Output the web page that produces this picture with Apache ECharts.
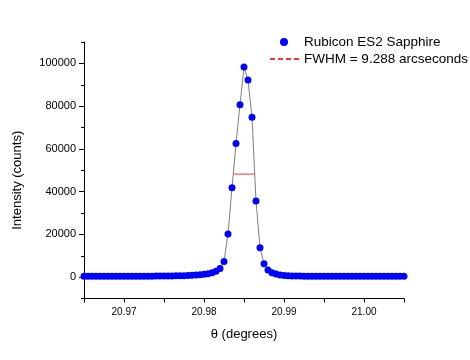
<!DOCTYPE html>
<html>
<head>
<meta charset="utf-8">
<script src="https://cdn.jsdelivr.net/npm/echarts@6/dist/echarts.min.js"></script>
<style>html,body{margin:0;padding:0;background:#fff;}#c{width:470px;height:360px;}</style>
</head>
<body>
<div id="c"></div>
<script>
var theta = [20.9650,20.9655,20.9660,20.9665,20.9670,20.9675,20.9680,20.9685,20.9690,20.9695,
20.9700,20.9705,20.9710,20.9715,20.9720,20.9725,20.9730,20.9735,20.9740,20.9745,
20.9750,20.9755,20.9760,20.9765,20.9770,20.9775,20.9780,20.9785,20.9790,20.9795,
20.9800,20.9805,20.9810,20.9815,20.9820,20.9825,20.9830,20.9835,20.9840,20.9845,
20.9850,20.9855,20.9860,20.9865,20.9870,20.9875,20.9880,20.9885,20.9890,20.9895,
20.9900,20.9905,20.9910,20.9915,20.9920,20.9925,20.9930,20.9935,20.9940,20.9945,
20.9950,20.9955,20.9960,20.9965,20.9970,20.9975,20.9980,20.9985,20.9990,20.9995,
21.0000,21.0005,21.0010,21.0015,21.0020,21.0025,21.0030,21.0035,21.0040,21.0045,21.0050];
var intensity = [380,390,385,395,390,400,405,400,410,410,
415,420,425,430,440,445,455,465,475,490,
500,520,550,590,640,700,780,880,1000,1150,
1350,1600,2100,2750,4000,7300,20200,41800,62500,80700,
98300,92200,74800,35600,13800,6200,3350,2100,1500,1050,
800,650,560,510,480,460,445,435,425,420,
415,410,405,400,400,395,395,390,390,385,
385,380,380,380,375,375,375,370,370,370,370];
var fwhmTheta = [20.98373, 20.98631];
var fwhmLevel = [48200, 48200];
var xTickLabels = [20.97, 20.98, 20.99, 21.00];
var yTickLabels = [0, 20000, 40000, 60000, 80000, 100000];
var yMinorTicks = [-10000, 10000, 30000, 50000, 70000, 90000, 110000];
var seriesName = 'Rubicon ES2 Sapphire';
var fwhmName = 'FWHM = 9.288 arcseconds';

var pts = theta.map(function(t,i){return [t,intensity[i]];});
var fw = fwhmTheta.map(function(t,i){return [t,fwhmLevel[i]];});
var FONT = 'Liberation Sans, Arial, sans-serif';
var G = {left:84,right:66,top:42,bottom:61.5,containLabel:false};
var chart = echarts.init(document.getElementById('c'), null, {renderer:'canvas'});
chart.setOption({
  animation:false,
  backgroundColor:'#fff',
  textStyle:{fontFamily:FONT},
  grid:[G, Object.assign({}, G)],
  legend:[{
    data:[{name:seriesName,icon:'circle'}],
    left:280,top:35,padding:0,itemWidth:30,itemHeight:8,
    textStyle:{fontFamily:FONT,fontSize:13.5,color:'#000'}
  },{
    data:[{name:fwhmName,icon:'path://M0,0h5v2h-5zM8,0h5v2h-5zM16,0h5v2h-5zM24,0h5v2h-5z'}],
    left:270,top:52,padding:0,itemWidth:29,itemHeight:2,
    textStyle:{fontFamily:FONT,fontSize:13.5,color:'#000'}
  }],
  xAxis:[{
    gridIndex:0,type:'value',min:20.965,max:21.005,interval:0.005,
    name:'θ (degrees)',nameLocation:'middle',nameGap:29,
    nameTextStyle:{fontFamily:FONT,fontSize:13,color:'#000'},
    axisLine:{onZero:false,lineStyle:{color:'#000',width:1}},
    axisTick:{show:true,length:4,inside:false,lineStyle:{color:'#000'}},
    splitLine:{show:false},
    axisLabel:{fontFamily:FONT,fontSize:10,color:'#000',margin:9,customValues:xTickLabels,
      formatter:function(v){return v.toFixed(2);}}
  },{
    gridIndex:1,type:'value',min:20.965,max:21.005,show:false
  }],
  yAxis:[{
    gridIndex:0,type:'value',min:-10000,max:110000,interval:10000,
    name:'Intensity (counts)',nameLocation:'middle',nameGap:60,
    nameTextStyle:{fontFamily:FONT,fontSize:13,color:'#000',padding:[0,20,0,0]},
    axisLine:{show:true,onZero:false,lineStyle:{color:'#000',width:1}},
    axisTick:{show:true,length:5,customValues:yTickLabels,lineStyle:{color:'#000'}},
    splitLine:{show:false},
    axisLabel:{fontFamily:FONT,fontSize:11,color:'#000',margin:8,customValues:yTickLabels,
      formatter:function(v){return String(v);}}
  },{
    gridIndex:1,type:'value',min:-10000,max:110000,interval:10000,
    axisLine:{show:false},
    axisTick:{show:true,length:3,customValues:yMinorTicks,lineStyle:{color:'#000'}},
    axisLabel:{show:false},splitLine:{show:false}
  }],
  series:[{
    name:'fit',type:'line',data:pts,showSymbol:false,symbol:'none',
    lineStyle:{color:'#7f7f7f',width:1},z:1,silent:true
  },{
    name:seriesName,type:'scatter',data:pts,symbol:'circle',symbolSize:7,
    itemStyle:{color:'#0000ff',opacity:1},z:3
  },{
    name:fwhmName,type:'line',data:fw,symbol:'none',showSymbol:false,
    lineStyle:{color:'#ff3030',width:1,type:'solid'},itemStyle:{color:'#ff3030'},z:2
  }]
});
</script>
</body>
</html>
